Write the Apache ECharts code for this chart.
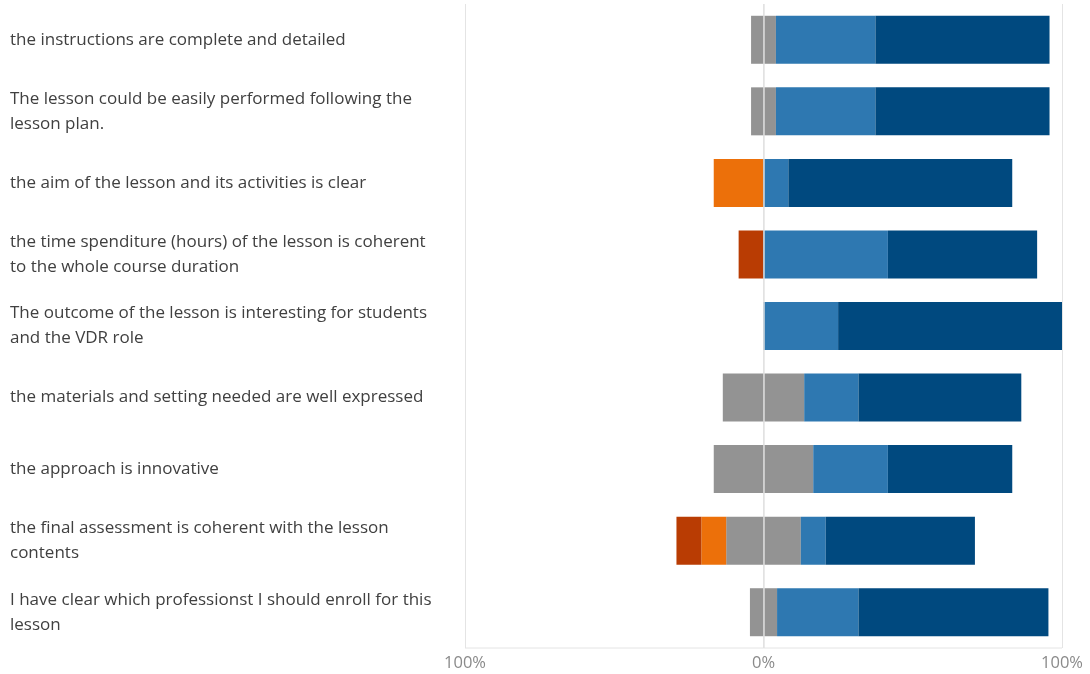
<!DOCTYPE html>
<html><head><meta charset="utf-8">
<script src="https://cdn.jsdelivr.net/npm/echarts@6/dist/echarts.min.js"></script>
<style>html,body{margin:0;padding:0;background:#fff}#c{width:1090px;height:674px}</style>
</head><body><div id="c"></div>
<script>
const categories = [
  "the instructions are complete and detailed",
  "The lesson could be easily performed following the\nlesson plan.",
  "the aim of the lesson and its activities is clear",
  "the time spenditure (hours) of the lesson is coherent\nto the whole course duration",
  "The outcome of the lesson is interesting for students\nand the VDR role",
  "the materials and setting needed are well expressed",
  "the approach is innovative",
  "the final assessment is coherent with the lesson\ncontents",
  "I have clear which professionst I should enroll for this\nlesson"
];
// percentages of answers
const stronglyDisagree = [0, 0, 0, 8.33, 0, 0, 0, 8.33, 0];
const disagree         = [0, 0, 16.67, 0, 0, 0, 0, 8.33, 0];
const neutral          = [8.33, 8.33, 0, 0, 0, 27.27, 33.33, 25, 9.09];
const agree            = [33.33, 33.33, 8.33, 41.67, 25, 18.18, 25, 8.33, 27.27];
const stronglyAgree    = [58.33, 58.33, 75, 50, 75, 54.55, 41.67, 50, 63.64];
const tickLabels = {"-100": "100%", "0": "0%", "100": "100%"};

const colors = {sd:"#B93C03", d:"#EC700A", n:"#939393", a:"#2E78B1", sa:"#00497F"};
const neutralHalf = neutral.map(v => v / 2);
const neg = arr => arr.map(v => -v);

function bar(name, data, color) {
  return {name, type:'bar', stack:'likert', data, barWidth:48,
    itemStyle:{color}, emphasis:{disabled:true}};
}
const series = [
  bar('Neutral (left)', neg(neutralHalf), colors.n),
  bar('Disagree', neg(disagree), colors.d),
  bar('Strongly disagree', neg(stronglyDisagree), colors.sd),
  bar('Neutral (right)', neutralHalf, colors.n),
  bar('Agree', agree, colors.a),
  bar('Strongly agree', stronglyAgree, colors.sa)
];
series[0].markLine = {silent:true, symbol:'none', label:{show:false},
  lineStyle:{color:'rgba(225,225,225,0.7)', type:'solid', width:2}, data:[{xAxis:0}], z:10};

const chart = echarts.init(document.getElementById('c'), null, {renderer:'canvas'});
chart.setOption({
  animation:false,
  grid:{left:465, right:28, top:4, bottom:26, containLabel:false},
  xAxis:{type:'value', min:-100, max:100, interval:100,
    axisLine:{show:false}, axisTick:{show:false},
    splitLine:{show:true, lineStyle:{color:'#e4e4e4', width:1}},
    axisLabel:{color:'#8a8a8a', fontSize:16.5, fontFamily:'Open Sans', margin:7,
      formatter:v => tickLabels[String(v)] || ''}
  },
  yAxis:{type:'category', inverse:true, data:categories,
    axisLine:{show:false}, axisTick:{show:false},
    axisLabel:{align:'left', margin:455, color:'#404040', fontSize:17, fontFamily:'Open Sans', lineHeight:25}
  },
  graphic:[{type:'line', shape:{x1:465, y1:648, x2:1062, y2:648}, style:{stroke:'#e4e4e4', lineWidth:1}}],
  series
});
</script></body></html>
